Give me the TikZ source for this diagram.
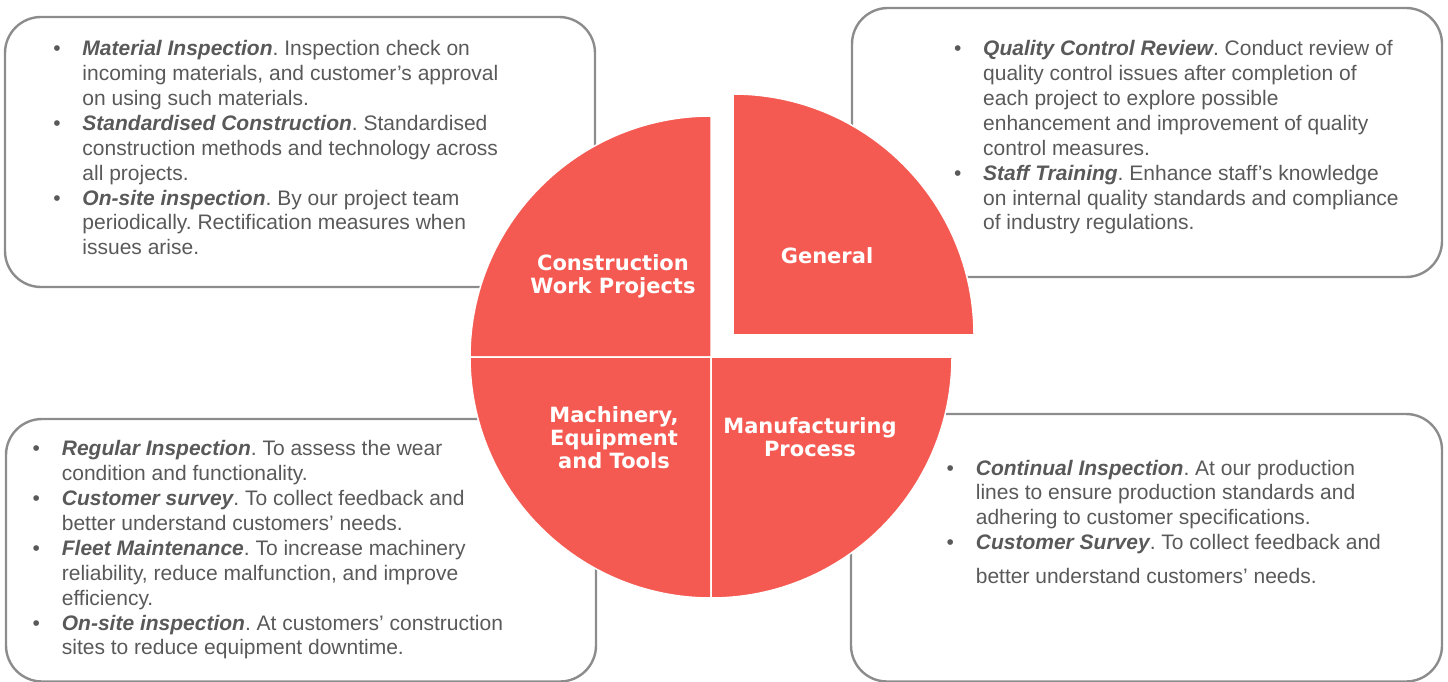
\documentclass[tikz,border=0pt]{standalone}
\usepackage{fontspec}
\setmainfont{Liberation Sans}
\newfontfamily\pielabelfont{DejaVu Sans}
\definecolor{piered}{RGB}{245,90,82}
\definecolor{txtgray}{RGB}{89,89,89}
\definecolor{boxgray}{RGB}{140,140,140}
\newcommand\itemhead[1]{{\bfseries\itshape #1}}
\frenchspacing
\tikzset{
  boxline/.style={draw=boxgray, line width=2.4pt, rounded corners=36pt},
  piesector/.style={fill=piered, draw=white, line width=1.5pt},
  pielabel/.style={text=white, align=center, inner sep=0pt,
    font=\pielabelfont\bfseries\fontsize{21}{23}\selectfont},
  bodytext/.style={anchor=base west, inner sep=0pt, text=txtgray,
    font=\fontsize{21}{24.9}\selectfont}
}
\begin{document}
\begin{tikzpicture}[x=1pt,y=1pt]
\useasboundingbox (0,0) rectangle (1448,681);
% boxes
\draw[boxline] (5,394) rectangle (595,664);
\draw[boxline] (852,404) rectangle (1442,673);
\draw[boxline] (6,-0.5) rectangle (596,262);
\draw[boxline] (851,-0.5) rectangle (1442,267);
% box texts
\node[bodytext] (tltext) at (53.1,625.3) {\begin{tabular}[t]{@{}l@{\hspace{21.8pt}}l@{}}
\textbullet & \itemhead{Material Inspection}. Inspection check on\\
 & incoming materials, and customer’s approval\\
 & on using such materials.\\
\textbullet & \itemhead{Standardised Construction}. Standardised\\
 & construction methods and technology across\\
 & all projects.\\
\textbullet & \itemhead{On-site inspection}. By our project team\\
 & periodically. Rectification measures when\\
 & issues arise.
\end{tabular}};
\node[bodytext] (trtext) at (953.8,625.3) {\begin{tabular}[t]{@{}l@{\hspace{21.8pt}}l@{}}
\textbullet & \itemhead{Quality Control Review}. Conduct review of\\
 & quality control issues after completion of\\
 & each project to explore possible\\
 & enhancement and improvement of quality\\
 & control measures.\\
\textbullet & \itemhead{Staff Training}. Enhance staff’s knowledge\\
 & on internal quality standards and compliance\\
 & of industry regulations.
\end{tabular}};
\node[bodytext] (bltext) at (32.5,225.3) {\begin{tabular}[t]{@{}l@{\hspace{21.8pt}}l@{}}
\textbullet & \itemhead{Regular Inspection}. To assess the wear\\
 & condition and functionality.\\
\textbullet & \itemhead{Customer survey}. To collect feedback and\\
 & better understand customers’ needs.\\
\textbullet & \itemhead{Fleet Maintenance}. To increase machinery\\
 & reliability, reduce malfunction, and improve\\
 & efficiency.\\
\textbullet & \itemhead{On-site inspection}. At customers’ construction\\
 & sites to reduce equipment downtime.
\end{tabular}};
\node[bodytext] (brtext) at (946.5,206) {\begin{tabular}[t]{@{}l@{\hspace{21.8pt}}l@{}}
\textbullet & \itemhead{Continual Inspection}. At our production\\
 & lines to ensure production standards and\\
 & adhering to customer specifications.\\
\textbullet & \itemhead{Customer Survey}. To collect feedback and\\[8.6pt]
 & better understand customers’ needs.
\end{tabular}};
% pie
\coordinate (C) at (711,324);
\coordinate (G) at (733,346);
\path[piesector] (C) -- ++(180:241) arc[start angle=180,end angle=90,radius=241] -- cycle;
\path[piesector] (C) -- ++(180:241) arc[start angle=180,end angle=270,radius=241] -- cycle;
\path[piesector] (C) -- ++(270:241) arc[start angle=270,end angle=360,radius=241] -- cycle;
\path[piesector] (G) -- ++(0:241) arc[start angle=0,end angle=90,radius=241] -- cycle;
% pie labels
\node[pielabel] (cwp) at (613,405) {Construction\\Work Projects};
\node[pielabel] (gen) at (827,425) {General};
\node[pielabel] (met) at (614,243.5) {Machinery,\\Equipment\\and Tools};
\node[pielabel] (mfp) at (810,243.5) {Manufacturing\\Process};
\end{tikzpicture}
\end{document}
